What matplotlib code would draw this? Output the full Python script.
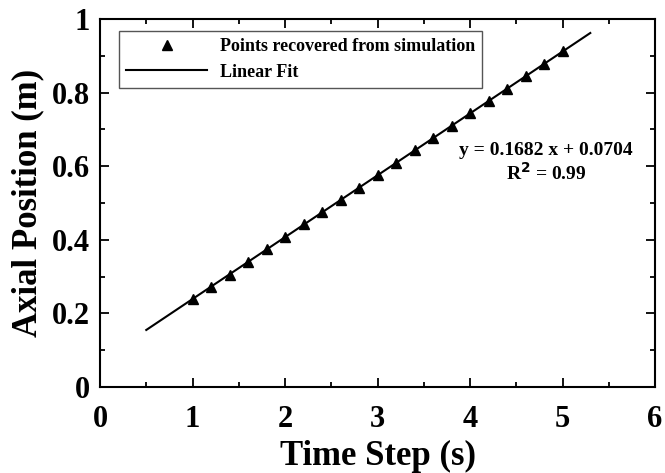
import matplotlib
matplotlib.use("Agg")
import matplotlib.pyplot as plt
from matplotlib.ticker import MultipleLocator

# valeurs
time_step = [1.0, 1.2, 1.4, 1.6, 1.8, 2.0, 2.2, 2.4, 2.6, 2.8, 3.0,
             3.2, 3.4, 3.6, 3.8, 4.0, 4.2, 4.4, 4.6, 4.8, 5.0]
axial_pos = [0.240, 0.272, 0.305, 0.340, 0.375, 0.408, 0.442, 0.475,
             0.508, 0.542, 0.576, 0.610, 0.643, 0.677, 0.710, 0.744,
             0.777, 0.811, 0.845, 0.878, 0.912]

fit_x = [0.5, 5.3]
fit_y = [0.155, 0.962]

x_ticks = [0, 1, 2, 3, 4, 5, 6]
y_ticks = [0, 0.2, 0.4, 0.6, 0.8, 1]
y_labels = ["0", "0.2", "0.4", "0.6", "0.8", "1"]

plt.rcParams["font.family"] = ["Liberation Serif", "DejaVu Serif"]
plt.rcParams["font.weight"] = "bold"

fig = plt.figure(figsize=(6.65, 4.73), dpi=100)
ax = fig.add_axes([0.1504, 0.1818, 0.8346, 0.778])

ax.plot(time_step, axial_pos, linestyle="none", marker="^", color="black",
        markersize=7, label="Points recovered from simulation")
ax.plot(fit_x, fit_y, color="black", linewidth=1.5, label="Linear Fit")

ax.set_xlim(0, 6)
ax.set_ylim(0, 1)
ax.set_xticks(x_ticks)
ax.set_yticks(y_ticks)
ax.set_yticklabels(y_labels)
ax.xaxis.set_minor_locator(MultipleLocator(0.5))
ax.yaxis.set_minor_locator(MultipleLocator(0.1))

ax.tick_params(which="both", direction="in", top=True, right=True,
               width=1.3, labelsize=22)
ax.tick_params(which="major", length=6.5)
ax.tick_params(which="minor", length=3.6)
ax.tick_params(axis="x", which="major", pad=13)
ax.tick_params(axis="y", which="major", pad=7)
for sp in ax.spines.values():
    sp.set_linewidth(1.5)
for lbl in ax.get_xticklabels() + ax.get_yticklabels():
    lbl.set_fontweight("bold")

ax.set_xlabel("Time Step (s)", fontsize=25, fontweight="bold", labelpad=4)
ax.set_ylabel("Axial Position (m)", fontsize=25, fontweight="bold", labelpad=6)

leg = ax.legend(loc="upper left", bbox_to_anchor=(0.034, 0.967),
                borderaxespad=0, prop={"size": 13, "weight": "bold"},
                fancybox=False, framealpha=1, edgecolor="#555555",
                handlelength=4.5, handletextpad=0.7, borderpad=0.4,
                labelspacing=0.45)
leg.get_frame().set_linewidth(1.0)

ax.text(4.82, 0.644, "y = 0.1682 x + 0.0704", ha="center", va="center",
        fontsize=14, fontweight="bold")
ax.text(4.82, 0.582, "R$^{\\mathbf{2}}$ = 0.99", ha="center", va="center",
        fontsize=14, fontweight="bold")

fig.savefig("out.png", dpi=100)
